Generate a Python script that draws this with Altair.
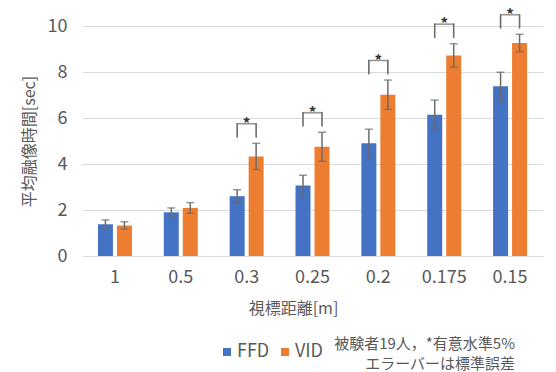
import altair as alt
import pandas as pd

categories = ["1", "0.5", "0.3", "0.25", "0.2", "0.175", "0.15"]
series = ["FFD", "VID"]
ffd_mean = [1.38, 1.90, 2.60, 3.06, 4.90, 6.14, 7.38]
ffd_err = [0.19, 0.19, 0.28, 0.45, 0.61, 0.64, 0.61]
vid_mean = [1.33, 2.09, 4.33, 4.75, 7.01, 8.72, 9.26]
vid_err = [0.16, 0.23, 0.57, 0.63, 0.64, 0.51, 0.38]
significant = [False, False, True, True, True, True, True]
colors = ["#4472C4", "#ED7D31"]
note = "被験者19人，*有意水準5%\nエラーバーは標準誤差"

rows = []
for i, c in enumerate(categories):
    rows.append({"cat": c, "series": "FFD", "mean": ffd_mean[i], "err": ffd_err[i], "sig": significant[i]})
    rows.append({"cat": c, "series": "VID", "mean": vid_mean[i], "err": vid_err[i], "sig": significant[i]})
df = pd.DataFrame(rows)

FONT = "Noto Sans CJK JP"
GRAY = "#595959"

base = alt.Chart(df).transform_calculate(
    lo="datum.mean - datum.err", hi="datum.mean + datum.err"
)

x_enc = alt.X(
    "cat:N", sort=categories,
    scale=alt.Scale(paddingInner=0.484, paddingOuter=0.242),
    axis=alt.Axis(
        title="視標距離[m]", labelAngle=0, domain=False, ticks=False,
        labelPadding=12, labelFontSize=18, labelColor=GRAY, labelFont=FONT,
        titleFontSize=16, titleColor=GRAY, titleFont=FONT, titleFontWeight="normal",
        titleX=211, titleY=52, titleBaseline="middle",
    ),
)
xo_enc = alt.XOffset("series:N", sort=series, scale=alt.Scale(paddingInner=0.2105, paddingOuter=0))

bars = base.mark_bar().encode(
    x=x_enc,
    xOffset=xo_enc,
    y=alt.Y(
        "mean:Q", scale=alt.Scale(domain=[0, 10]),
        axis=alt.Axis(
            title="平均融像時間[sec]", values=[0, 2, 4, 6, 8, 10], domain=False, ticks=False,
            gridColor="#d9d9d9", gridWidth=1, labelPadding=15, labelFontSize=18,
            labelColor=GRAY, labelFont=FONT, titleFontSize=16, titleColor=GRAY,
            titleFont=FONT, titleFontWeight="normal", titleX=-53, titleY=115,
            titleBaseline="middle", titleAngle=-90,
        ),
    ),
    color=alt.Color(
        "series:N", scale=alt.Scale(domain=series, range=colors),
        legend=alt.Legend(
            title=None, orient="none", direction="horizontal", legendX=136, legendY=317,
            symbolType="square", symbolSize=64, symbolStrokeWidth=0, labelFontSize=18,
            labelColor=GRAY, labelFont=FONT, labelOffset=1, columnPadding=6, padding=0,
        ),
    ),
)

err_rule = base.mark_rule(color="#6b6b6b", strokeWidth=1.5).encode(
    x=alt.X("cat:N", sort=categories), xOffset=xo_enc, y="lo:Q", y2="hi:Q"
)
cap_hi = base.mark_tick(color="#6b6b6b", size=8, thickness=1.5).encode(
    x=alt.X("cat:N", sort=categories), xOffset=xo_enc, y="hi:Q"
)
cap_lo = base.mark_tick(color="#6b6b6b", size=8, thickness=1.5).encode(
    x=alt.X("cat:N", sort=categories), xOffset=xo_enc, y="lo:Q"
)

br = base.transform_joinaggregate(top_hi="max(hi)", groupby=["cat"]).transform_filter(
    "datum.sig"
).transform_calculate(btop="datum.top_hi + 0.85", bleg="datum.top_hi + 0.27")

legs = br.mark_rule(color="#6b6b6b", strokeWidth=1.6, strokeCap="round").encode(
    x=alt.X("cat:N", sort=categories), xOffset=xo_enc, y="bleg:Q", y2="btop:Q"
)
btop = br.transform_filter("datum.series == 'VID'").mark_tick(
    color="#6b6b6b", size=20, thickness=1.6
).encode(x=alt.X("cat:N", sort=categories), y="btop:Q")
stars = br.transform_filter("datum.series == 'VID'").mark_text(
    text="*", fontSize=15, fontWeight="bold", color="#333333", font=FONT, baseline="alphabetic", dy=5
).encode(x=alt.X("cat:N", sort=categories), y="btop:Q")

note_df = pd.DataFrame({"note": [note]})
note_text = alt.Chart(note_df).mark_text(
    align="right", baseline="top", fontSize=15, color=GRAY, font=FONT, lineBreak="\n", lineHeight=20
).encode(text="note:N", x=alt.value(433), y=alt.value(311))

chart = alt.layer(bars, err_rule, cap_hi, cap_lo, legs, btop, stars, note_text).properties(
    width=461, height=230,
    autosize=alt.AutoSizeParams(type="none"),
    padding={"left": 82, "top": 26, "right": 13, "bottom": 116},
    background="white",
).configure_view(stroke=None)

chart.save("out.html", embed_options={"renderer": "svg", "actions": False})
